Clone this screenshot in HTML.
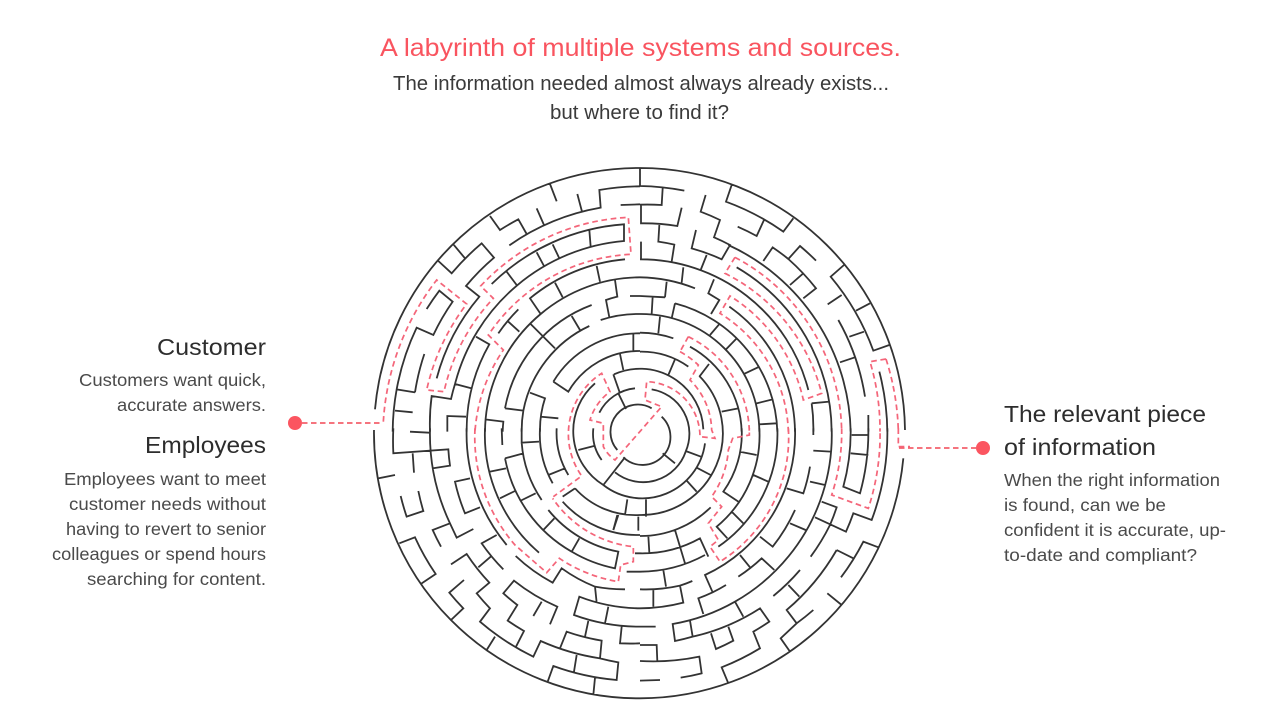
<!DOCTYPE html>
<html><head><meta charset="utf-8"><title>Labyrinth</title>
<style>
html,body{margin:0;padding:0;background:#fff;width:1280px;height:720px;overflow:hidden}
svg{display:block}
text{font-family:"Liberation Sans",sans-serif}
.h{font-size:23.5px;fill:#2d2d2d}
.b{font-size:17.2px;fill:#4a4a4a}
.k{fill:none;stroke:#333;stroke-width:5.4;stroke-linecap:butt;stroke-linejoin:miter}
.r{fill:none;stroke:#f4667a;stroke-width:5.2;stroke-dasharray:17 11}
</style></head><body>
<svg width="1280" height="720" viewBox="0 0 1280 720" xmlns="http://www.w3.org/2000/svg">
<text x="380" y="56" font-size="25" fill="#f9545f" textLength="521" lengthAdjust="spacingAndGlyphs">A labyrinth of multiple systems and sources.</text>
<text x="393" y="90" font-size="20" fill="#3a3a3a" textLength="496" lengthAdjust="spacingAndGlyphs">The information needed almost always already exists...</text>
<text x="550" y="119" font-size="20" fill="#3a3a3a" textLength="179" lengthAdjust="spacingAndGlyphs">but where to find it?</text>

<text class="h" x="157" y="355" textLength="109" lengthAdjust="spacingAndGlyphs">Customer</text>
<text class="b" x="79" y="386" textLength="187" lengthAdjust="spacingAndGlyphs">Customers want quick,</text>
<text class="b" x="117" y="411" textLength="149" lengthAdjust="spacingAndGlyphs">accurate answers.</text>
<text class="h" x="145" y="453" textLength="121" lengthAdjust="spacingAndGlyphs">Employees</text>
<text class="b" x="64" y="485" textLength="202" lengthAdjust="spacingAndGlyphs">Employees want to meet</text>
<text class="b" x="69" y="510" textLength="197" lengthAdjust="spacingAndGlyphs">customer needs without</text>
<text class="b" x="66" y="535" textLength="200" lengthAdjust="spacingAndGlyphs">having to revert to senior</text>
<text class="b" x="52" y="560" textLength="214" lengthAdjust="spacingAndGlyphs">colleagues or spend hours</text>
<text class="b" x="87" y="585" textLength="179" lengthAdjust="spacingAndGlyphs">searching for content.</text>

<text class="h" x="1004" y="422" textLength="202" lengthAdjust="spacingAndGlyphs">The relevant piece</text>
<text class="h" x="1004" y="455" textLength="152" lengthAdjust="spacingAndGlyphs">of information</text>
<text class="b" x="1004" y="486" textLength="216" lengthAdjust="spacingAndGlyphs">When the right information</text>
<text class="b" x="1004" y="511" textLength="162" lengthAdjust="spacingAndGlyphs">is found, can we be</text>
<text class="b" x="1004" y="536" textLength="222" lengthAdjust="spacingAndGlyphs">confident it is accurate, up-</text>
<text class="b" x="1004" y="561" textLength="193" lengthAdjust="spacingAndGlyphs">to-date and compliant?</text>

<circle cx="295" cy="423" r="7" fill="#fb5560"/>
<circle cx="983" cy="448" r="7" fill="#fb5560"/>
<path d="M302 423H383M899 448H978" fill="none" stroke="#f4606c" stroke-width="1.7" stroke-dasharray="5.5 3.5"/>

<g transform="translate(370,160) scale(.33333)">
<!-- top-left -->
<g>
<path class="k" d="M15 748A795 795 0 0 1 810 24M540 72L560 124M622 102L636 155M500 145L522 195
M418 256A685 685 0 0 1 692 143L688 90A740 740 0 0 1 810 79
M360 168L390 210A740 740 0 0 1 445 178L470 222
M205 303L245 340A740 740 0 0 1 335 250L372 293A685 685 0 0 0 288 378L328 410A630 630 0 0 0 200 655
M250 253L285 295
M170 447A740 740 0 0 1 208 392L248 425A685 685 0 0 0 190 525L140 503A740 740 0 0 0 80 688L135 697
M80 688A740 740 0 0 0 68 815
M163 582A685 685 0 0 0 135 697
M75 752L128 757
M180 815A630 630 0 0 1 185 708L243 717A575 575 0 0 1 255 672L305 685
M365 372A630 630 0 0 1 762 193L762 243A575 575 0 0 0 255 672
M500 277L522 318M548 253L568 295M658 210L662 260M410 335L440 375
M765 298A520 520 0 0 0 480 415L512 462
M445 448A520 520 0 0 0 385 520
M415 485L448 515
M318 530L358 553A520 520 0 0 0 290 815
M345 815A465 465 0 0 1 512 462A465 465 0 0 1 810 352
M680 318L690 365M555 368L578 412
M735 360L742 410A410 410 0 0 0 708 420L718 472M692 480A355 355 0 0 1 810 462
M780 408L810 408M752 135L810 133
M232 815L232 768L288 770
M345 778L400 785A410 410 0 0 0 398 815
M405 745A410 410 0 0 1 665 435M405 745L460 752
M480 490L555 565
M455 815A355 355 0 0 1 460 752A355 355 0 0 1 658 498
M605 468L630 510
M480 698L525 715A300 300 0 0 0 510 815M565 775L510 770
M550 665A300 300 0 0 1 810 520M550 665L595 695A245 245 0 0 1 810 573
M790 520L790 572"/>
<path class="r" d="M40 785A770 770 0 0 1 200 360L290 432A660 660 0 0 0 170 690L222 695A600 600 0 0 1 370 415L332 378A650 650 0 0 1 775 172L783 283A545 545 0 0 0 355 525L400 570A492 492 0 0 0 315 815"/>
</g>
<!-- top-right -->
<g transform="translate(810,0)">
<path class="k" d="M0 24A795 795 0 0 1 795 810M0 24L0 78M0 78A740 740 0 0 1 133 92
M68 85L65 135A685 685 0 0 0 0 134
M125 143L112 198A630 630 0 0 0 3 190L3 135
M58 195L55 245A575 575 0 0 1 103 254L95 305M3 245L3 298
M0 298A520 520 0 0 1 505 690
M515 730L568 725M515 730A520 520 0 0 1 520 815
M290 322A575 575 0 0 1 575 815
M265 255A630 630 0 0 1 632 815
M268 440A465 465 0 0 1 465 815
M0 352A465 465 0 0 1 165 385M130 322L125 368M80 365L75 412
M0 408L75 412M38 410L35 462
M105 430A410 410 0 0 1 412 815
M222 358L205 400L238 420L213 462
M240 490L210 525M290 535L258 568M358 620L312 642M398 718L350 730M410 790L358 793
M105 430L95 475
M0 462A355 355 0 0 1 358 815M60 470L55 520
M0 518A300 300 0 0 1 100 535
M150 560A300 300 0 0 1 305 815M207 612L178 650
M0 575A245 245 0 0 1 145 620
M275 75L258 125A740 740 0 0 1 430 215L460 175
M372 180L350 228A685 685 0 0 0 293 200
M197 105L182 155A685 685 0 0 1 240 180L222 232A630 630 0 0 1 270 255L245 298A575 575 0 0 0 155 265L168 210
M200 285L182 330
M370 303L398 262A685 685 0 0 1 445 297L480 258A740 740 0 0 1 528 302
M445 297A685 685 0 0 1 528 385L490 415M490 340L450 375
M612 315L572 350A740 740 0 0 1 700 572L748 555
M605 405L563 433M690 430L648 452
M595 480A685 685 0 0 1 675 710M628 530L672 515M645 592L600 607
M685 765L685 815
M718 635A740 740 0 0 1 742 815"/>
<path class="r" d="M285 292A600 600 0 0 1 605 815M285 292L255 340A555 555 0 0 1 545 700L490 720A492 492 0 0 0 270 408L240 460A432 432 0 0 1 445 815
M145 530A325 325 0 0 1 328 815M145 530L120 575
M738 597L690 605A712 712 0 0 1 720 815M738 597A770 770 0 0 1 775 815"/>
</g>
<!-- bottom-left -->
<g transform="translate(0,810)">
<path class="k" d="M12 0A795 795 0 0 0 810 805M25 145L75 135
M70 -5A740 740 0 0 0 70 70L235 58A575 575 0 0 0 240 107L187 115
M180 -5A630 630 0 0 0 240 280L260 323L310 297M240 280L188 300A685 685 0 0 0 213 350
M120 5L178 8M128 70L132 128
M145 183A685 685 0 0 0 160 243L110 260A740 740 0 0 1 92 198
M88 340L135 322A740 740 0 0 0 197 432L155 460
M300 145L255 155A575 575 0 0 0 285 250L330 232
M290 -5A520 520 0 0 0 410 345
M380 315L335 340A575 575 0 0 0 400 418M362 380L325 412
M243 403L290 372A630 630 0 0 0 358 458L320 490A685 685 0 0 0 360 535L330 575A740 740 0 0 0 490 680L512 633A685 685 0 0 0 690 685L695 632A630 630 0 0 1 590 605L570 655
M655 573L645 620
M438 650L462 603A685 685 0 0 1 413 572L442 525A630 630 0 0 1 400 490L432 452A575 575 0 0 0 562 530L540 583M515 515L490 558
M243 570L280 535A740 740 0 0 1 238 488L282 450
M350 660L375 620
M533 755L550 708A740 740 0 0 0 740 750L745 697A685 685 0 0 1 690 685M620 675L612 725
M670 795L675 743
M755 590L750 640A630 630 0 0 0 810 640
M810 590A575 575 0 0 1 612 555L628 500A520 520 0 0 0 810 535
M680 518L675 470A465 465 0 0 1 575 415L548 458A520 520 0 0 1 437 378
M675 470A465 465 0 0 0 765 478
M715 530L705 580
M345 -5A465 465 0 0 0 507 368
M395 -5L397 45
M360 125L408 115M390 205L435 183
M405 85A410 410 0 0 0 605 365M450 213L497 190
M605 365A410 410 0 0 0 735 415L745 365A355 355 0 0 1 535 240
M553 265L520 300M628 325L605 365
M770 425L810 425M795 370L810 370
M455 -5L455 38L507 35M455 38A355 355 0 0 0 515 210
M535 135L585 115M510 -5A300 300 0 0 0 548 160
M560 -5A245 245 0 0 0 595 135
M405 85L460 70
M745 255L730 300M578 215A300 300 0 0 0 810 315"/>
<path class="r" d="M315 -5A495 495 0 0 0 435 345L530 428L568 385A447 447 0 0 0 745 455L752 405L790 395L790 350A335 335 0 0 1 548 205"/>
</g>
<!-- bottom-right -->
<g transform="translate(810,810)">
<path class="k" d="M790 85A795 795 0 0 1 0 805
M632 -5A630 630 0 0 1 610 170L660 190A685 685 0 0 0 685 -5M635 15L683 15M632 70L685 75
M742 -5A740 740 0 0 1 695 270L640 250A685 685 0 0 1 618 305L525 262
M575 -5A575 575 0 0 1 98 582L105 633A630 630 0 0 0 158 620L150 572
M520 -5L520 15M520 62L572 65
M545 215L590 232A630 630 0 0 1 570 285A630 630 0 0 1 512 380
M465 240A520 520 0 0 1 398 350L360 320
M450 280L497 300
M510 110A520 520 0 0 1 490 190L440 175M510 155L555 165
M465 -5A465 465 0 0 1 195 435L218 487A520 520 0 0 0 258 465M218 487A520 520 0 0 1 175 505L190 552
M340 135L385 155
M300 375L330 412M295 440A520 520 0 0 0 365 385L403 420
M358 -5A355 355 0 0 1 230 290L262 325M275 245L310 280M298 65L350 75
M412 -5A410 410 0 0 1 235 350
M305 -5A300 300 0 0 1 250 185L295 215
M212 232A300 300 0 0 1 0 318M105 300L135 400M25 318L28 368
M0 370A355 355 0 0 0 180 325L205 380M0 425A410 410 0 0 0 195 375
M0 535A520 520 0 0 0 130 518L120 467A465 465 0 0 0 157 453M0 478A465 465 0 0 0 120 467M40 480L40 530M70 420L78 470
M285 515L310 560M158 620A630 630 0 0 0 360 535L388 575A685 685 0 0 1 340 605L360 655A740 740 0 0 1 245 712L265 760
M265 590L280 632A685 685 0 0 1 228 657L213 610
M0 693A685 685 0 0 0 178 680L185 730A740 740 0 0 1 122 743
M0 645L50 645L52 695M0 752L60 750M0 590L47 590
M400 498A630 630 0 0 0 480 420M445 465L478 500
M590 360L640 385M590 360A685 685 0 0 1 440 540L470 580A740 740 0 0 0 520 540
M715 352L670 335A740 740 0 0 1 603 442M562 490L605 525
M470 580L422 625L450 665"/>
<path class="r" d="M605 -5A600 600 0 0 1 575 195L685 235A712 712 0 0 0 720 -5
M775 -5L775 50L810 50
M445 -5A437 437 0 0 1 240 395L210 350L235 330L205 280L245 230L215 200A275 275 0 0 0 265 60L278 25L328 15L328 -5"/>
</g>
<!-- centre -->
<g transform="translate(510,540)">
<path class="k" d="M365 230A82 82 0 1 1 250 352M232 330A82 82 0 0 1 335 205
M335 148A135 135 0 0 1 437 335A135 135 0 0 1 225 397M368 340L405 370M437 333L483 350
M178 218A135 135 0 0 1 285 145M235 160L258 207
M160 265A135 135 0 0 0 185 360M115 330L162 318
M220 103L240 160M222 103A190 190 0 0 1 490 268
M495 310A190 190 0 0 1 190 435A190 190 0 0 1 165 130
M190 435L255 352M468 382L512 405M440 422L470 455M262 478L255 525M318 478L318 530
M478 108A245 245 0 0 1 300 525A245 245 0 0 1 105 445M105 445L68 470
M240 42L250 90M405 58L385 105M545 215L595 205M220 570L232 525M295 530L295 572"/>
<path class="r" d="M420 35A272 272 0 0 1 475 75L450 120A217 217 0 0 1 515 270L525 295L480 290A165 165 0 0 0 320 125L315 180L365 200L225 360A110 110 0 0 1 190 320L190 250L150 240A165 165 0 0 1 210 155L185 100A217 217 0 0 0 125 408L40 470"/>
</g>
</g>
</svg>
</body></html>
